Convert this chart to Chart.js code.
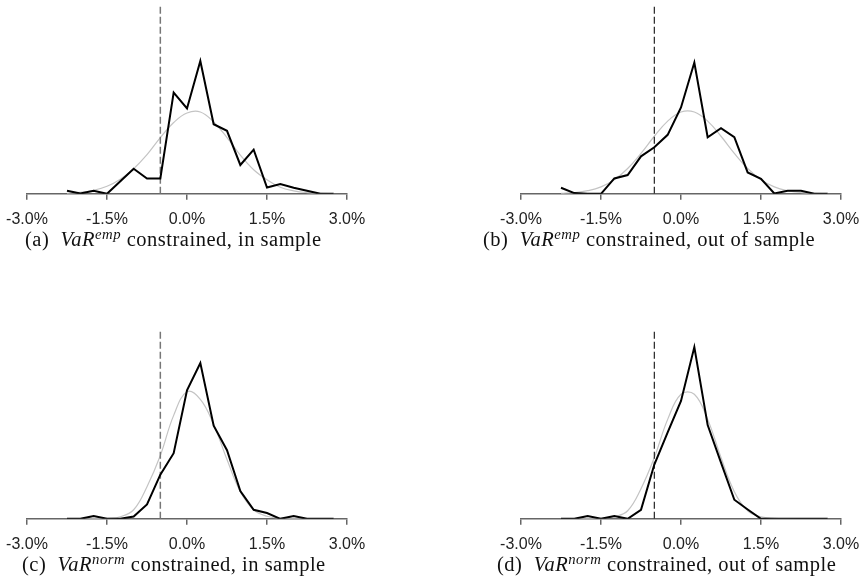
<!DOCTYPE html>
<html>
<head>
<meta charset="utf-8">
<script src="https://cdn.jsdelivr.net/npm/chart.js@4.4.0/dist/chart.umd.min.js"></script>
<style>
  html, body { margin: 0; padding: 0; background: #fff; }
  body { width: 864px; height: 587px; position: relative; overflow: hidden; }
  .box { position: absolute; width: 382px; height: 243px; }
  .cap { position: absolute; font-family: 'Liberation Serif', serif; font-size: 20.5px; letter-spacing: 0.5px; color: #111; white-space: nowrap; line-height: 24px; }
  .cap sup { font-size: 0.72em; vertical-align: 0; position: relative; top: -0.45em; }
</style>
</head>
<body>
<div class="box" style="left:-5px;top:0"><canvas id="pa"></canvas></div>
<div class="box" style="left:489px;top:0"><canvas id="pb"></canvas></div>
<div class="box" style="left:-5px;top:325px"><canvas id="pc"></canvas></div>
<div class="box" style="left:489px;top:325px"><canvas id="pd"></canvas></div>
<div class="cap" style="left:25px;top:227px">(a)&nbsp; <i>VaR<sup>emp</sup></i> constrained, in sample</div>
<div class="cap" style="left:483px;top:227px">(b)&nbsp; <i>VaR<sup>emp</sup></i> constrained, out of sample</div>
<div class="cap" style="left:22px;top:552px">(c)&nbsp; <i>VaR<sup>norm</sup></i> constrained, in sample</div>
<div class="cap" style="left:497px;top:552px">(d)&nbsp; <i>VaR<sup>norm</sup></i> constrained, out of sample</div>
<script>
(() => {
  'use strict'

  // return bins (%), every 0.25
  const bins = [-2.25, -2.0, -1.75, -1.5, -1.25, -1.0, -0.75, -0.5, -0.25, 0.0,
    0.25, 0.5, 0.75, 1.0, 1.25, 1.5, 1.75, 2.0, 2.25, 2.5, 2.75]
  const varLevel = -0.5
  const tickVals = [-3.0, -1.5, 0.0, 1.5, 3.0]

  const empA = [3, 0.3, 3, 0, 12.5, 25, 15.3, 15.3, 100.7, 85, 132.3, 69.3, 62.7, 28.7, 44, 6.3, 9.7, 6, 3, 0, 0]
  const empB = [6, 0.7, 0, 0, 15.3, 18.7, 37.3, 46.3, 58.7, 86, 130.7, 56.3, 65.3, 56.3, 21.3, 15, 0.3, 3, 3, 0, 0]
  const empC = [0, 0, 2.7, 0, 0, 2.3, 14.3, 44, 65.3, 128, 155, 92.7, 68.3, 27.7, 9, 5.7, 0, 2.7, 0, 0, 0]
  const empD = [0, 0, 2.7, 0, 2.7, 0, 9, 54, 86, 117.3, 171, 93.3, 56, 19, 9.3, 0, 0, 0, 0, 0, 0]

  // fitted normal densities, same bins
  const fitA = [0.5, 1.5, 3.5, 7.5, 14.5, 25, 39, 56, 71, 80.5, 81.5, 71.5, 56, 38.5, 24, 14, 6.5, 3, 1.2, 0.4, 0.1]
  const fitB = [0.4, 1.2, 3.1, 6.9, 14, 25.2, 40.3, 57.3, 72.4, 81.5, 81.5, 72.4, 57.3, 40.3, 25.2, 14, 6.9, 3.1, 1.2, 0.4, 0.1]
  const fitC = [0, 0, 0.1, 0.5, 2, 9, 32, 63, 103, 126.5, 119, 94, 59, 27, 9, 2.5, 0.6, 0.1, 0, 0, 0]
  const fitD = [0, 0, 0.1, 0.5, 2, 8, 30, 61, 99, 124, 124, 99, 61, 27, 8, 2, 0.5, 0.1, 0, 0, 0]

  const yTop = 187

  function pts (ys) {
    return bins.map((x, i) => ({ x: x, y: ys[i] }))
  }

  function panel (id, emp, fit, varColor, varWidth) {
    new Chart(document.getElementById(id), {
      type: 'line',
      data: {
        datasets: [{
          data: pts(emp),
          borderColor: '#000',
          borderWidth: 2,
          pointRadius: 0,
          tension: 0
        }, {
          data: [{ x: varLevel, y: 0 }, { x: varLevel, y: yTop }],
          borderColor: varColor,
          borderWidth: varWidth,
          borderDash: [7, 3],
          pointRadius: 0
        }, {
          data: pts(fit),
          borderColor: '#c4c4c4',
          borderWidth: 1.2,
          pointRadius: 0,
          tension: 0.4
        }]
      },
      options: {
        responsive: false,
        animation: false,
        // wide side padding so tick labels don't push the chart area in
        layout: { padding: { left: 32, right: 30, top: 6, bottom: 4 } },
        plugins: { legend: { display: false }, tooltip: { enabled: false } },
        scales: {
          x: {
            type: 'linear',
            min: -3,
            max: 3,
            afterBuildTicks: (s) => { s.ticks = tickVals.map(v => ({ value: v })) },
            border: { display: true, color: '#666', width: 1.5 },
            grid: { display: true, drawOnChartArea: false, drawTicks: true, tickLength: 6, color: '#666', lineWidth: 1.5 },
            ticks: {
              padding: 10,
              color: '#222',
              maxRotation: 0,
              autoSkip: false,
              font: { family: 'Liberation Sans', size: 16 },
              callback: (v) => v.toFixed(1) + '%'
            }
          },
          y: { display: false, min: 0, max: yTop }
        }
      }
    })
  }

  for (const c of document.querySelectorAll('canvas')) { c.width = 382; c.height = 243 }

  panel('pa', empA, fitA, '#777', 1.5)
  panel('pb', empB, fitB, '#222', 1.2)
  panel('pc', empC, fitC, '#777', 1.5)
  panel('pd', empD, fitD, '#222', 1.2)
})()
</script>
</body>
</html>
